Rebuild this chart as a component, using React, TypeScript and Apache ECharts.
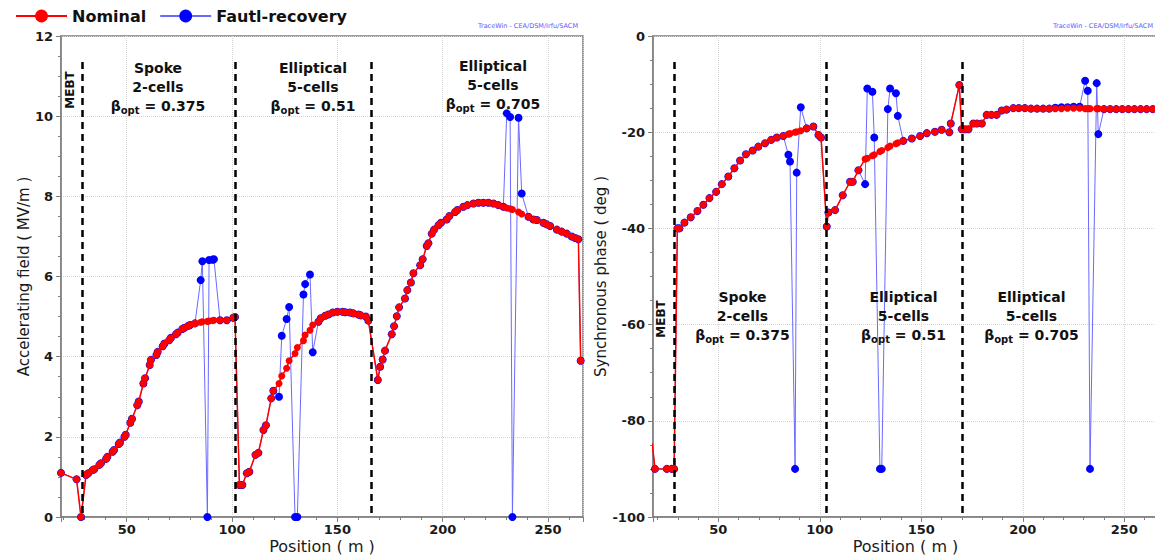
import React, { useEffect, useRef } from "react";
import * as echarts from "echarts";

// ---------- Left panel: accelerating field (MV/m) vs position (m) ----------
const fieldPos = [
  18.8, 26.2, 28.3, 30.7, 31.8, 33.8, 34.6, 37.0, 37.8, 40.2, 40.8, 43.3, 44.0, 46.2, 46.8, 48.9, 49.5,
  51.7, 52.5, 55.0, 55.7, 57.9, 58.7, 60.9, 61.5, 64.1, 64.7, 67.1, 67.9, 70.2, 71.0, 73.4, 74.2, 76.4,
  77.4, 79.3, 80.1, 82.4, 85.1, 85.9, 88.3, 89.1, 90.8, 91.4, 94.3, 97.5, 100.6, 101.4,
  103.5, 104.9, 107.0, 108.2, 111.1, 112.5, 114.9, 116.1, 118.6, 119.6, 122.3, 123.6, 125.9, 127.1,
  129.9, 131.0, 133.9, 134.7, 137.0, 138.3, 141.0, 142.1, 144.2, 145.7, 147.8, 150.0, 152.5, 153.7,
  156.0, 157.6, 160.0, 161.1, 163.5, 164.7,
  169.2, 170.3, 171.5, 172.6, 175.8, 176.9, 178.2, 179.3, 182.1, 183.2, 184.9, 186.1, 189.3, 190.5,
  192.4, 193.2, 194.8, 195.9, 198.0, 199.2, 201.9, 203.2, 205.9, 207.0, 209.8, 211.7, 214.6, 217.0,
  219.3, 221.7, 224.1, 226.4, 228.8, 230.4, 232.0, 233.1, 236.0, 237.5, 240.7, 243.1, 244.7, 247.8,
  249.4, 251.0, 254.2, 256.5, 258.9, 261.3, 262.9, 264.4, 265.5,
];
const fieldNominal = [
  1.1, 0.94, 0.0, 1.05, 1.09, 1.17, 1.19, 1.3, 1.34, 1.45, 1.5, 1.63, 1.67, 1.82, 1.86, 2.0, 2.05,
  2.35, 2.45, 2.79, 2.88, 3.33, 3.46, 3.79, 3.92, 4.04, 4.12, 4.26, 4.33, 4.41, 4.47, 4.56, 4.6, 4.69,
  4.72, 4.77, 4.79, 4.83, 4.86, 4.87, 4.88, 4.89, 4.9, 4.91, 4.91, 4.91, 4.97, 4.99,
  0.8, 0.8, 1.09, 1.13, 1.55, 1.6, 2.17, 2.29, 2.96, 3.15, 3.33, 3.52, 3.71, 3.9,
  4.08, 4.23, 4.4, 4.54, 4.66, 4.79, 4.87, 4.96, 5.02, 5.05, 5.1, 5.12, 5.12, 5.11,
  5.1, 5.08, 5.05, 5.03, 5.0, 4.9,
  3.42, 3.75, 3.93, 4.15, 4.56, 4.76, 5.01, 5.23, 5.45, 5.66, 5.85, 6.08, 6.28, 6.43,
  6.76, 6.83, 7.07, 7.17, 7.28, 7.34, 7.42, 7.51, 7.61, 7.66, 7.74, 7.78, 7.82, 7.84,
  7.84, 7.84, 7.82, 7.78, 7.74, 7.71, 7.69, 7.67, 7.61, 7.56, 7.49, 7.42, 7.41, 7.34,
  7.3, 7.26, 7.17, 7.12, 7.07, 7.0, 6.96, 6.93, 3.9,
];
const fieldRecovery = [
  1.1, 0.94, 0.0, 1.05, 1.09, 1.17, 1.19, 1.3, 1.34, 1.45, 1.5, 1.63, 1.67, 1.82, 1.86, 2.0, 2.05,
  2.35, 2.45, 2.79, 2.88, 3.33, 3.46, 3.79, 3.92, 4.04, 4.12, 4.26, 4.33, 4.41, 4.47, 4.56, 4.6, 4.69,
  4.72, 4.77, 4.79, 4.83, 5.91, 6.38, 0.0, 6.41, 6.42, 6.43, 4.91, 4.91, 4.97, 4.99,
  0.8, 0.8, 1.09, 1.13, 1.55, 1.6, 2.17, 2.29, 2.96, 3.15, 3.0, 4.52, 4.94, 5.24,
  0.0, 0.0, 5.55, 5.81, 6.05, 4.11, 4.87, 4.96, 5.02, 5.05, 5.1, 5.12, 5.12, 5.11,
  5.1, 5.08, 5.05, 5.03, 5.0, 4.9,
  3.42, 3.75, 3.93, 4.15, 4.56, 4.76, 5.01, 5.23, 5.45, 5.66, 5.85, 6.08, 6.28, 6.43,
  6.76, 6.83, 7.07, 7.17, 7.28, 7.34, 7.42, 7.51, 7.61, 7.66, 7.74, 7.78, 7.82, 7.84,
  7.84, 7.84, 7.82, 7.78, 7.74, 10.07, 9.98, 0.0, 9.96, 8.07, 7.49, 7.42, 7.41, 7.34,
  7.3, 7.26, 7.17, 7.12, 7.07, 7.0, 6.96, 6.93, 3.9,
];
const fieldSections = [28.9, 101.4, 166.0];
const fieldDividerTop = 11.35;

// ---------- Right panel: synchronous phase (deg) vs position (m) ----------
const phasePos = [
  17.4, 18.8, 24.6, 27.0, 28.2, 29.8, 30.8, 33.3, 36.4, 39.7, 42.6, 45.6, 48.9, 51.7, 54.9, 57.9,
  60.7, 63.6, 66.9, 69.7, 73.0, 76.0, 78.8, 82.0, 84.5, 85.3, 87.8, 88.6, 90.6, 93.5, 96.8, 99.3, 100.6,
  103.4, 104.2, 107.5, 111.3, 114.9, 116.2, 119.0, 122.3, 123.4, 125.9, 126.8, 129.6, 130.5, 133.5,
  134.6, 137.5, 138.4, 141.1, 145.3, 149.4, 152.7, 156.7, 160.0, 163.8, 164.5, 168.7,
  169.9, 171.5, 173.2, 175.6, 177.4, 179.8, 182.2, 184.5, 187.1, 189.6, 192.0, 195.3, 198.0, 201.0,
  204.0, 207.0, 210.0, 213.0, 216.0, 219.0, 222.0, 225.0, 228.0, 230.7, 232.0, 233.1, 236.4, 237.2,
  240.0, 243.0, 246.0, 249.0, 252.0, 255.0, 258.0, 261.0, 264.0, 266.5,
];
const phaseNominal = [
  -84.7, -90, -90, -90, -90, -40.0, -40.0, -38.8, -37.7, -36.4, -35.1, -33.7, -32.4, -30.8, -29.2, -27.5,
  -25.9, -24.6, -23.8, -23.0, -22.3, -21.6, -21.1, -20.8, -20.4, -20.3, -20.0, -19.9, -19.7, -19.2, -18.8, -20.6, -21.1,
  -39.6, -36.7, -36.2, -33.1, -30.3, -30.3, -27.9, -25.6, -25.4, -24.9, -24.7, -24.0, -23.8, -23.2,
  -22.9, -22.4, -22.2, -21.8, -21.3, -20.8, -20.2, -19.9, -19.5, -20.0, -18.2, -10.2,
  -19.4, -19.4, -19.4, -18.2, -18.2, -18.2, -16.4, -16.4, -16.4, -15.5, -15.3, -15.0, -15.0, -15.0,
  -15.1, -15.1, -15.1, -15.1, -15.1, -15.1, -15.0, -15.0, -15.0, -15.1, -15.1, -15.1, -15.1, -15.1,
  -15.2, -15.2, -15.2, -15.2, -15.2, -15.2, -15.2, -15.2, -15.2, -15.2,
];
const phaseRecovery = [
  -84.7, -90, -90, -90, -90, -40.0, -40.0, -38.8, -37.7, -36.4, -35.1, -33.7, -32.4, -30.8, -29.2, -27.5,
  -25.9, -24.6, -23.8, -23.0, -22.3, -21.6, -21.1, -20.8, -24.7, -26.1, -90.0, -28.4, -14.8, -19.2, -18.8, -20.6, -21.1,
  -39.6, -36.7, -36.2, -33.1, -30.3, -30.3, -27.9, -30.8, -10.9, -11.6, -21.1, -90.0, -90.0, -15.2,
  -10.9, -11.9, -16.6, -21.8, -21.3, -20.8, -20.2, -19.9, -19.5, -20.0, -18.2, -10.2,
  -19.4, -19.4, -19.4, -18.2, -18.2, -18.2, -16.4, -16.4, -16.4, -15.5, -15.3, -15.0, -15.0, -15.0,
  -15.1, -15.1, -15.1, -15.1, -14.9, -14.8, -14.8, -14.7, -14.7, -9.3, -11.4, -90.0, -9.8, -20.4,
  -15.2, -15.2, -15.2, -15.2, -15.2, -15.2, -15.2, -15.2, -15.2, -15.2,
];
const phaseSections = [28.3, 103.4, 170.4];
const phaseDividerTop = -5.4;

const seriesNames = ["Nominal", "Fautl-recovery"];
const FONT = "DejaVu Sans";

const xAxisBase = (gridIndex: number, min: number, max: number, nameGap: number) => ({
  type: "value",
  gridIndex,
  min,
  max,
  splitNumber: 5,
  name: "Position ( m )",
  nameLocation: "middle",
  nameGap,
  nameMoveOverlap: false,
  nameTextStyle: { fontFamily: FONT, fontSize: 16, lineHeight: 16, color: "#1a1a1a" },
  axisLine: { show: true, onZero: false, lineStyle: { color: "#7f7f7f", width: 1.5 } },
  axisTick: { show: true, length: 5, lineStyle: { color: "#7f7f7f" } },
  minorTick: { show: true, splitNumber: 5, length: 3, lineStyle: { color: "#7f7f7f" } },
  axisLabel: {
    fontFamily: FONT,
    fontWeight: "bold",
    fontSize: 13,
    color: "#1a1a1a",
    margin: 6,
    showMinLabel: false,
    showMaxLabel: false,
  },
  splitLine: { show: true, lineStyle: { color: "#d4d4d4", type: "dotted" } },
});

const yAxisBase = (gridIndex: number, min: number, max: number, interval: number, name: string, nameGap: number) => ({
  type: "value",
  gridIndex,
  min,
  max,
  interval,
  name,
  nameLocation: "middle",
  nameGap,
  nameTextStyle: { fontFamily: FONT, fontSize: 15, color: "#1a1a1a" },
  axisLine: { show: true, onZero: false, lineStyle: { color: "#7f7f7f", width: 1.5 } },
  axisTick: { show: true, length: 5, lineStyle: { color: "#7f7f7f" } },
  minorTick: { show: true, splitNumber: 4, length: 3, lineStyle: { color: "#7f7f7f" } },
  axisLabel: { fontFamily: FONT, fontWeight: "bold", fontSize: 13, color: "#1a1a1a", margin: 8 },
  splitLine: { show: true, lineStyle: { color: "#d4d4d4", type: "dotted" } },
});

const dividerLines = (xs: number[], top: number, bottom: number) => ({
  silent: true,
  symbol: ["none", "none"],
  label: { show: false },
  emphasis: { disabled: true },
  lineStyle: { color: "#000", type: [7, 5], width: 2.5 },
  data: xs.map((x) => [{ coord: [x, top] }, { coord: [x, bottom] }]),
});

const richStyles = {
  b: { fontFamily: FONT, fontWeight: "bold", fontSize: 14, lineHeight: 19, fill: "#111" },
  s: { fontFamily: FONT, fontWeight: "bold", fontSize: 10, lineHeight: 19, fill: "#111", verticalAlign: "bottom" },
};

const block = (x: number, y: number, l1: string, l2: string, beta: string) => ({
  type: "text",
  x,
  y,
  z: 100,
  silent: true,
  style: {
    text: `{b|${l1}}\n{b|${l2}}\n{b|β}{s|opt}{b| = ${beta}}`,
    rich: richStyles,
    align: "center",
    verticalAlign: "top",
    fill: "#111",
  },
});

const mebt = (x: number, y: number) => ({
  type: "text",
  x,
  y,
  rotation: Math.PI / 2,
  z: 100,
  silent: true,
  style: {
    text: "MEBT",
    fontFamily: FONT,
    fontWeight: "bold",
    fontSize: 12,
    fill: "#111",
    align: "center",
    verticalAlign: "middle",
  },
});

const credit = (x: number, align: string) => ({
  type: "text",
  x,
  y: 26,
  silent: true,
  style: {
    text: "TraceWin - CEA/DSM/Irfu/SACM",
    fontFamily: FONT,
    fontSize: 6.5,
    fill: "#5a5aff",
    align,
    verticalAlign: "middle",
  },
});

export default function App() {
  const ref = useRef<HTMLDivElement>(null);

  useEffect(() => {
    if (!ref.current) return;
    const chart = echarts.init(ref.current, null, { renderer: "svg" });

    const recStyle = {
      type: "line",
      name: seriesNames[1],
      symbol: "circle",
      symbolSize: 8,
      itemStyle: { color: "#0000ff" },
      lineStyle: { color: "#6a6aff", width: 1 },
      z: 2,
    };
    const nomStyle = {
      type: "line",
      name: seriesNames[0],
      symbol: "circle",
      symbolSize: 7,
      itemStyle: { color: "#ff0000" },
      lineStyle: { color: "#ff0000", width: 1.5 },
      z: 3,
    };

    const option = {
      animation: false,
      backgroundColor: "#ffffff",
      legend: {
        data: seriesNames,
        left: 10,
        top: 3,
        itemWidth: 51,
        itemHeight: 16,
        itemGap: 13,
        textStyle: { fontFamily: FONT, fontWeight: "bold", fontSize: 16, color: "#111" },
      },
      grid: [
        {
          left: 61, top: 36, width: 522, height: 481, show: true, borderColor: "#7f7f7f", borderWidth: 1.5,
          backgroundColor: "transparent", containLabel: false, outerBoundsMode: "none",
        },
        {
          left: 653, top: 36, width: 505, height: 481, show: true, borderColor: "#7f7f7f", borderWidth: 1.5,
          backgroundColor: "transparent", containLabel: false, outerBoundsMode: "none",
        },
      ],
      xAxis: [xAxisBase(0, 18.8, 266.6, 21), xAxisBase(1, 17.8, 266.6, 21)],
      yAxis: [
        yAxisBase(0, 0, 12, 2, "Accelerating field ( MV/m )", 30),
        yAxisBase(1, -100, 0, 20, "Synchronous phase ( deg )", 45),
      ],
      series: [
        { ...recStyle, xAxisIndex: 0, yAxisIndex: 0, data: fieldPos.map((x, i) => [x, fieldRecovery[i]]) },
        {
          ...nomStyle,
          xAxisIndex: 0,
          yAxisIndex: 0,
          data: fieldPos.map((x, i) => [x, fieldNominal[i]]),
          markLine: dividerLines(fieldSections, fieldDividerTop, 0),
        },
        { ...recStyle, xAxisIndex: 1, yAxisIndex: 1, data: phasePos.map((x, i) => [x, phaseRecovery[i]]) },
        {
          ...nomStyle,
          xAxisIndex: 1,
          yAxisIndex: 1,
          data: phasePos.map((x, i) => [x, phaseNominal[i]]),
          markLine: dividerLines(phaseSections, phaseDividerTop, -100),
        },
      ],
      graphic: [
        credit(578, "right"),
        credit(1153, "right"),
        mebt(70, 90),
        mebt(661, 319),
        block(158, 58.5, "Spoke", "2-cells", "0.375"),
        block(313, 58.5, "Elliptical", "5-cells", "0.51"),
        block(493, 56.5, "Elliptical", "5-cells", "0.705"),
        block(742.5, 287.5, "Spoke", "2-cells", "0.375"),
        block(903.5, 287.5, "Elliptical", "5-cells", "0.51"),
        block(1031.5, 287.5, "Elliptical", "5-cells", "0.705"),
      ],
    };

    chart.setOption(option as any);
    return () => chart.dispose();
  }, []);

  return (
    <div
      ref={ref}
      style={{ position: "fixed", left: 0, top: 0, width: 1155, height: 555, background: "#fff" }}
    />
  );
}
